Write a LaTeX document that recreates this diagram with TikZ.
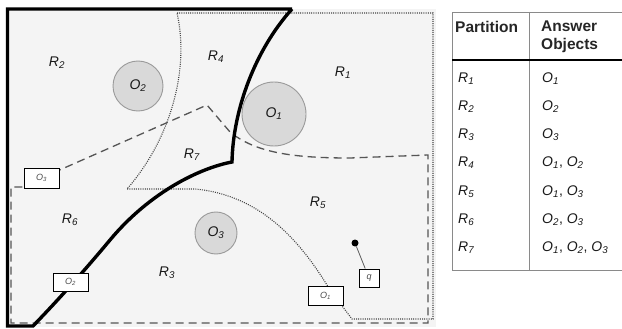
\documentclass[tikz,border=0pt]{standalone}
\usepackage{fontspec}
\setmainfont{Liberation Sans}
\definecolor{mapbg}{HTML}{F4F4F4}
\definecolor{objfill}{HTML}{D9D9D9}
\definecolor{objline}{HTML}{9A9A9A}
\definecolor{lnc}{HTML}{555555}
\definecolor{dotc}{HTML}{444444}
\definecolor{tabline}{HTML}{8A8A8A}
\newcommand\rsub[2]{\textit{#1}\textsubscript{\textit{#2}}}
\begin{document}
\begin{tikzpicture}[x=1pt,y=-1pt,
  thickline/.style={line width=3.4pt, black, line join=miter},
  dashline/.style={line width=1.3pt, lnc, dash pattern=on 8pt off 5pt},
  dotline/.style={line width=1.1pt, dotc, dash pattern=on 1pt off 1.2pt},
  obj/.style={circle, draw=objline, fill=objfill, line width=0.9pt, inner sep=0pt, font=\fontsize{14}{16}\selectfont, text=black!90},
  region/.style={inner sep=0pt, font=\fontsize{14}{16}\selectfont, text=black!90},
  tag/.style={draw, fill=white, line width=1pt, inner sep=0pt, minimum height=19pt, minimum width=35pt, font=\fontsize{9}{10}\selectfont, text=black!70},
  tabtxt/.style={anchor=west, inner sep=0pt, font=\fontsize{14}{16}\selectfont, text=black!90},
  tabhead/.style={anchor=west, inner sep=0pt, font=\fontsize{15.5}{17}\selectfont\bfseries, text=black!85}]
\useasboundingbox (0,0) rectangle (622,329);
% map background
\fill[mapbg] (8,9) rectangle (436,327);
% dotted region
\draw[dotline] (177,13) -- (433,13) -- (433,319) -- (352,319) -- (330,290)
  .. controls (300,240) and (260,195) .. (195,189) -- (127,189)
  .. controls (170,140) and (190,70) .. (177,13);
% dashed region
\draw[dashline] (41.5,178) -- (207,105) -- (230,132)
  .. controls (255,152) and (290,158) .. (350,158) -- (428,155)
  -- (428,323) -- (11,323) -- (11,187) -- (30,187);
% thick region
\draw[thickline] (292,9) -- (7.5,9) -- (7.5,326) -- (33,326)
  .. controls (60,298) and (85,270) .. (110,240)
  .. controls (150,192) and (200,168) .. (232,162)
  .. controls (233,110) and (255,50) .. (292,9);
% objects
\node[obj, minimum size=50pt] (o2) at (138,86) {\rsub{O}{2}};
\node[obj, minimum size=64pt] (o1) at (274,114) {\rsub{O}{1}};
\node[obj, minimum size=42pt] (o3) at (216,233) {\rsub{O}{3}};
% region labels
\node[region] (r2) at (57,63) {\rsub{R}{2}};
\node[region] (r4) at (216,57) {\rsub{R}{4}};
\node[region] (r1) at (343,73) {\rsub{R}{1}};
\node[region] (r7) at (192,155) {\rsub{R}{7}};
\node[region] (r6) at (70,220) {\rsub{R}{6}};
\node[region] (r3) at (167,273) {\rsub{R}{3}};
\node[region] (r5) at (318,203) {\rsub{R}{5}};
% tags
\node[tag, minimum height=20pt] (t3) at (41.5,178) {\rsub{O}{3}};
\node[tag, minimum height=18pt] (t2) at (70.5,282) {\rsub{O}{2}};
\node[tag] (t1) at (325.5,295.5) {\rsub{O}{1}};
\node[tag, minimum width=20pt, minimum height=18pt] (tq) at (369,278) {\textit{q}};
\node[circle, fill=black, inner sep=0pt, minimum size=7pt] (qdot) at (355,243) {};
\draw[black!65, line width=0.8pt] (qdot) -- (tq);
% table
\coordinate (tl) at (452,12);
\coordinate (tr) at (622,12);
\coordinate (bl) at (452,270);
\coordinate (br) at (622,270);
\coordinate (ct) at (529,12);
\coordinate (cb) at (529,270);
\coordinate (hl) at (452,60);
\coordinate (hr) at (622,60);
\draw[tabline, line width=0.8pt] (tr) -- (tl) -- (bl) -- (br);
\draw[tabline, line width=0.8pt] (ct) -- (cb);
\draw[black, line width=2pt] (hl) -- (hr);
\node[tabhead] (hp) at (455,27) {Partition};
\node[tabhead] (ha) at (541,26) {Answer};
\node[tabhead] (ho) at (541,45) {Objects};
\foreach \i/\y/\a in {1/79/{\rsub{O}{1}}, 2/107/{\rsub{O}{2}}, 3/135/{\rsub{O}{3}},
  4/163/{\rsub{O}{1}, \rsub{O}{2}}, 5/192/{\rsub{O}{1}, \rsub{O}{3}},
  6/220/{\rsub{O}{2}, \rsub{O}{3}}, 7/248/{\rsub{O}{1}, \rsub{O}{2}, \rsub{O}{3}}} {
  \node[tabtxt] (p\i) at (458,\y) {\rsub{R}{\i}};
  \node[tabtxt] (a\i) at (542,\y) {\a};
}
\end{tikzpicture}
\end{document}
